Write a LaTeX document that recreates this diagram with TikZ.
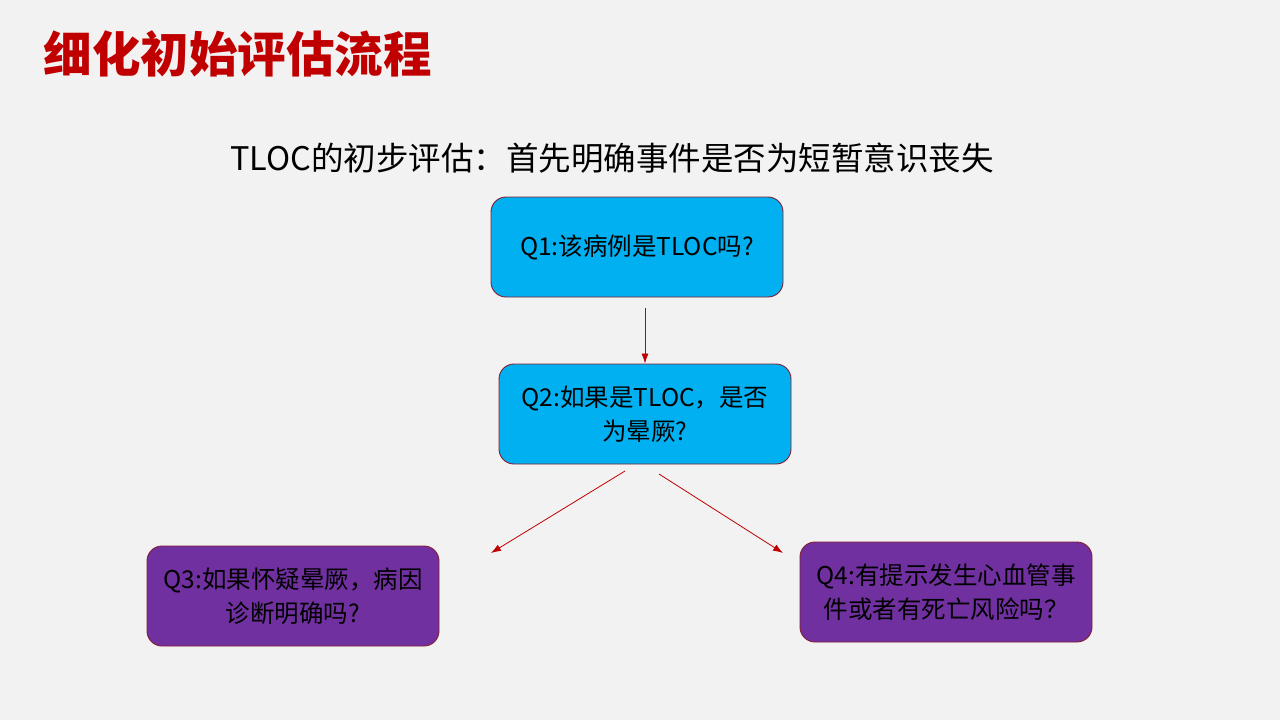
\documentclass[tikz,border=0pt]{standalone}
\usepackage{fontspec}
\setmainfont{Noto Sans CJK SC}
\usetikzlibrary{arrows.meta}
\definecolor{bgray}{RGB}{242,242,242}
\definecolor{titlered}{RGB}{192,0,0}
\definecolor{qblue}{RGB}{0,176,240}
\definecolor{qpurple}{RGB}{112,48,160}
\definecolor{qborder}{RGB}{130,30,50}

\begin{document}
\begin{tikzpicture}[x=1pt, y=-1pt,
  qbox/.style={draw=qborder, rounded corners=15pt, minimum width=292pt, minimum height=100pt,
    align=center, inner sep=0pt, line width=0.9pt, font=\fontsize{24.5}{34}\selectfont},
  flow/.style={-{Latex[length=10pt,width=7pt]}, draw=titlered, line width=0.8pt}]
% Draw the background
\fill[bgray] (0,0) rectangle (1280,720);
\useasboundingbox (0,0) rectangle (1280,720);

% Title and subtitle
\node[anchor=west, text=titlered, font=\fontsize{48.5}{56}\selectfont\bfseries] (title) at (40,54) {细化初始评估流程};
\node[font=\fontsize{32.5}{38}\selectfont] (sub) at (612,158) {TLOC的初步评估：首先明确事件是否为短暂意识丧失};

% Draw the questions
\node[qbox, fill=qblue] (q1) at (637,247) {Q1:该病例是TLOC吗?};
\node[qbox, fill=qblue] (q2) at (645,414) {Q2:如果是TLOC，是否\\为晕厥?};
\node[qbox, fill=qpurple] (q3) at (293,596) {Q3:如果怀疑晕厥，病因\\诊断明确吗?};
\node[qbox, fill=qpurple] (q4) at (946,592) {Q4:有提示发生心血管事\\件或者有死亡风险吗？};

% Free ends of the arrows
\coordinate (a1) at (645,308);
\coordinate (a2) at (625,471);
\coordinate (b2) at (491,553);
\coordinate (a3) at (659,474);
\coordinate (b3) at (783,553);

% Draw the arrows
\draw[flow] (a1) -- (q2);
\draw[flow] (a2) -- (b2);
\draw[flow] (a3) -- (b3);

\end{tikzpicture}
\end{document}
